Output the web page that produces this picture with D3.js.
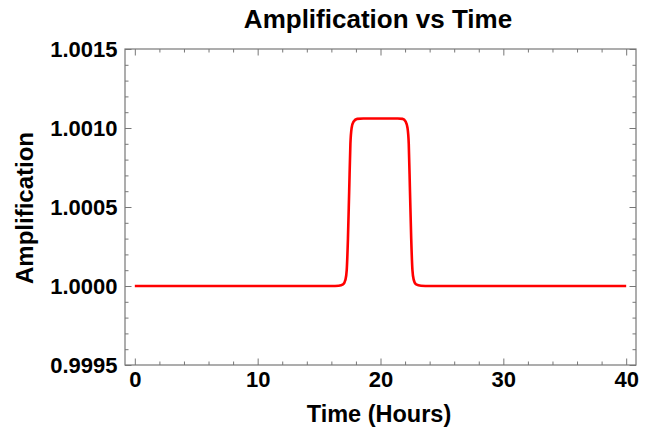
<!DOCTYPE html>
<html><head><meta charset="utf-8">
<script src="https://cdn.jsdelivr.net/npm/d3@7"></script>
<style>body{margin:0;background:#fff}svg{display:block}text{font-family:"Liberation Sans",Arial,sans-serif;font-weight:bold;fill:#000}</style>
</head><body>
<script>
const timeHours = [0, 10, 16, 16.6, 16.95, 17.15, 17.25, 17.35, 17.45, 17.55, 17.65, 17.8, 18.1, 18.6, 20, 21.4, 21.8, 22.05, 22.2, 22.3, 22.4, 22.5, 22.6, 22.7, 22.9, 23.3, 24, 30, 40];
const amplification = [1.0, 1.0, 1.0, 1.000002, 1.00001, 1.00004, 1.0001, 1.0003, 1.0006, 1.0009, 1.0010, 1.00104, 1.001058, 1.00106, 1.00106, 1.00106, 1.001058, 1.00104, 1.0010, 1.0009, 1.0006, 1.0003, 1.0001, 1.00004, 1.00001, 1.000002, 1.0, 1.0, 1.0];
const xMajorTicks = [0, 10, 20, 30, 40];
const xMinorTicks = [2, 4, 6, 8, 12, 14, 16, 18, 22, 24, 26, 28, 32, 34, 36, 38];
const yMajorTicks = [0.9995, 1.0000, 1.0005, 1.0010, 1.0015];
const yMinorTicks = [0.9996, 0.9997, 0.9998, 0.9999, 1.0001, 1.0002, 1.0003, 1.0004, 1.0006, 1.0007, 1.0008, 1.0009, 1.0011, 1.0012, 1.0013, 1.0014];
const title = "Amplification vs Time";
const xLabel = "Time (Hours)";
const yLabel = "Amplification";

const W = 654, H = 433;
const L = 125, R = 636, T = 49, B = 365;
const svg = d3.select("body").append("svg").attr("width", W).attr("height", H);
const x = d3.scaleLinear().domain([-0.8, 40.8]).range([L, R]);
const y = d3.scaleLinear().domain([0.9995, 1.0015]).range([B, T]);

const frameCol = "#777";
function clean(s) { s.select(".domain").remove(); s.selectAll("line").attr("stroke", frameCol); }
// bottom
{
  const gMin = svg.append("g").attr("transform", `translate(0,${B})`)
    .call(d3.axisBottom(x).tickValues(xMinorTicks).tickSize(-3.5).tickFormat(""));
  const g = svg.append("g").attr("transform", `translate(0,${B})`)
    .call(d3.axisBottom(x).tickValues(xMajorTicks).tickSize(-6.5).tickPadding(0).tickFormat(d3.format("d")));
  clean(gMin); clean(g);
  g.selectAll("text").attr("font-size", 22).attr("y", 22).attr("dy", 0);
}
// top
{
  const gMin = svg.append("g").attr("transform", `translate(0,${T})`)
    .call(d3.axisTop(x).tickValues(xMinorTicks).tickSize(-3.5).tickFormat(""));
  const g = svg.append("g").attr("transform", `translate(0,${T})`)
    .call(d3.axisTop(x).tickValues(xMajorTicks).tickSize(-6.5).tickFormat(""));
  clean(gMin); clean(g);
}
// left
{
  const gMin = svg.append("g").attr("transform", `translate(${L},0)`)
    .call(d3.axisLeft(y).tickValues(yMinorTicks).tickSize(-3.5).tickFormat(""));
  const g = svg.append("g").attr("transform", `translate(${L},0)`)
    .call(d3.axisLeft(y).tickValues(yMajorTicks).tickSize(-6.5).tickPadding(0).tickFormat(d3.format(".4f")));
  clean(gMin); clean(g);
  g.selectAll("text").attr("font-size", 22).attr("x", -7.5).attr("dy", 0).attr("y", 7.5);
}
// right
{
  const gMin = svg.append("g").attr("transform", `translate(${R},0)`)
    .call(d3.axisRight(y).tickValues(yMinorTicks).tickSize(-3.5).tickFormat(""));
  const g = svg.append("g").attr("transform", `translate(${R},0)`)
    .call(d3.axisRight(y).tickValues(yMajorTicks).tickSize(-6.5).tickFormat(""));
  clean(gMin); clean(g);
}
svg.append("rect").attr("x", L).attr("y", T).attr("width", R - L).attr("height", B - T)
  .attr("fill", "none").attr("stroke", frameCol).attr("stroke-width", 1.2);

const data = timeHours.map((t, i) => [t, amplification[i]]);
svg.append("path").datum(data)
  .attr("fill", "none").attr("stroke", "#ff0000").attr("stroke-width", 2.6)
  .attr("stroke-linejoin", "round")
  .attr("d", d3.line().x(d => x(d[0])).y(d => y(d[1])).curve(d3.curveMonotoneX));

svg.append("text").attr("x", 378).attr("y", 28).attr("text-anchor", "middle")
  .attr("font-size", 26).text(title);
svg.append("text").attr("x", 379).attr("y", 422).attr("text-anchor", "middle")
  .attr("font-size", 23.5).text(xLabel);
svg.append("text").attr("transform", `translate(33,208) rotate(-90)`).attr("text-anchor", "middle")
  .attr("font-size", 24).text(yLabel);
</script>
</body></html>
